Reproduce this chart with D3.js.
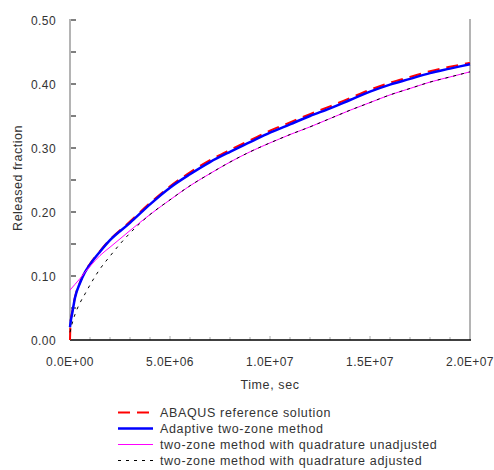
<!DOCTYPE html>
<html>
<head>
<meta charset="UTF-8">
<script src="https://d3js.org/d3.v7.min.js"></script>
<style>
  body { margin: 0; background: #fff; }
  svg { font-family: 'Liberation Sans', Arial, sans-serif; }
</style>
</head>
<body>
<div id="chart"></div>
<script>
// time in seconds, released fraction
const abaqusTime = [0, 2e4, 5e4, 1e5, 2.5e5, 5e5, 7.5e5, 1e6, 1.5e6, 2e6, 3e6, 4e6, 5e6, 6e6, 7e6, 8e6, 9e6, 1e7, 1.1e7, 1.2e7, 1.3e7, 1.4e7, 1.5e7, 1.6e7, 1.7e7, 1.8e7, 1.9e7, 2e7];
const abaqusValue = [0, 0.022, 0.034, 0.042, 0.067, 0.090, 0.107, 0.119, 0.139, 0.157, 0.185, 0.214, 0.240, 0.262, 0.281, 0.297, 0.312, 0.327, 0.340, 0.353, 0.365, 0.378, 0.391, 0.402, 0.411, 0.420, 0.427, 0.433];

const adaptiveTime = [0, 5e4, 1e5, 2.5e5, 5e5, 7.5e5, 1e6, 1.5e6, 2e6, 3e6, 4e6, 5e6, 6e6, 7e6, 8e6, 9e6, 1e7, 1.1e7, 1.2e7, 1.3e7, 1.4e7, 1.5e7, 1.6e7, 1.7e7, 1.8e7, 1.9e7, 2e7];
const adaptiveValue = [0.020, 0.032, 0.040, 0.066, 0.089, 0.106, 0.118, 0.138, 0.156, 0.183, 0.212, 0.238, 0.259, 0.278, 0.294, 0.309, 0.324, 0.337, 0.350, 0.362, 0.375, 0.388, 0.399, 0.408, 0.417, 0.424, 0.431];

const unadjTime = [0, 2.5e5, 5e5, 7.5e5, 1e6, 1.5e6, 2e6, 3e6, 4e6, 5e6, 6e6, 7e6, 8e6, 9e6, 1e7, 1.1e7, 1.2e7, 1.3e7, 1.4e7, 1.5e7, 1.6e7, 1.7e7, 1.8e7, 1.9e7, 2e7];
const unadjValue = [0.078, 0.087, 0.096, 0.106, 0.115, 0.132, 0.145, 0.171, 0.196, 0.219, 0.241, 0.260, 0.278, 0.294, 0.308, 0.321, 0.333, 0.346, 0.359, 0.371, 0.383, 0.393, 0.403, 0.411, 0.419];

const adjTime = [0, 1e5, 2.5e5, 5e5, 7.5e5, 1e6, 1.5e6, 2e6, 2.5e6, 3e6, 4e6, 5e6, 6e6, 7e6, 8e6, 9e6, 1e7, 1.1e7, 1.2e7, 1.3e7, 1.4e7, 1.5e7, 1.6e7, 1.7e7, 1.8e7, 1.9e7, 2e7];
const adjValue = [0.012, 0.025, 0.040, 0.058, 0.072, 0.086, 0.111, 0.131, 0.150, 0.167, 0.196, 0.219, 0.241, 0.260, 0.278, 0.294, 0.308, 0.321, 0.333, 0.346, 0.359, 0.371, 0.383, 0.393, 0.403, 0.411, 0.419];

const xTickLabels = ["0.0E+00", "5.0E+06", "1.0E+07", "1.5E+07", "2.0E+07"];
const yTickLabels = ["0.00", "0.10", "0.20", "0.30", "0.40", "0.50"];
const legendLabels = ["ABAQUS reference solution", "Adaptive two-zone method",
  "two-zone method with quadrature unadjusted", "two-zone method with quadrature adjusted"];

const width = 494, height = 470;
const plotLeft = 70, plotRight = 470, plotTop = 20, plotBottom = 340;

const svg = d3.select("#chart").append("svg")
  .attr("width", width).attr("height", height);

const x = d3.scaleLinear().domain([0, 2e7]).range([plotLeft, plotRight]);
const y = d3.scaleLinear().domain([0, 0.5]).range([plotBottom, plotTop]);

// minor ticks on x axis (every 1E+06)
svg.append("g").selectAll("line")
  .data(d3.range(1e6, 2e7 + 1, 1e6))
  .enter().append("line")
  .attr("x1", d => x(d)).attr("x2", d => x(d))
  .attr("y1", plotBottom).attr("y2", d => d % 5e6 === 0 ? plotBottom - 4 : plotBottom - 3)
  .attr("stroke", "#aaa").attr("stroke-width", 1);

// y ticks every 0.05, pointing inward
svg.append("g").selectAll("line")
  .data(d3.range(0.05, 0.5001, 0.05))
  .enter().append("line")
  .attr("x1", plotLeft).attr("x2", plotLeft + 6)
  .attr("y1", d => y(d)).attr("y2", d => y(d))
  .attr("stroke", "#000").attr("stroke-width", 1);

// axes frame
svg.append("line").attr("x1", plotLeft).attr("x2", plotLeft)
  .attr("y1", plotTop - 1).attr("y2", plotBottom)
  .attr("stroke", "#b4b4b4").attr("stroke-width", 2);
svg.append("line").attr("x1", plotRight).attr("x2", plotRight)
  .attr("y1", plotTop - 1).attr("y2", plotBottom)
  .attr("stroke", "#b4b4b4").attr("stroke-width", 2);
svg.append("line").attr("x1", plotLeft).attr("x2", plotRight + 1)
  .attr("y1", plotBottom).attr("y2", plotBottom)
  .attr("stroke", "#000").attr("stroke-width", 1.5);

// tick labels
svg.append("g").selectAll("text")
  .data(yTickLabels)
  .enter().append("text")
  .attr("x", plotLeft - 14).attr("y", d => y(+d) + 4.5)
  .attr("text-anchor", "end")
  .attr("font-size", 12).attr("letter-spacing", 0.4).attr("fill", "#333")
  .text(d => d);

svg.append("g").selectAll("text")
  .data(xTickLabels)
  .enter().append("text")
  .attr("x", d => x(+d)).attr("y", 366)
  .attr("text-anchor", "middle")
  .attr("font-size", 12).attr("letter-spacing", 0.4).attr("fill", "#333")
  .text(d => d);

svg.append("text").attr("x", 270).attr("y", 389)
  .attr("text-anchor", "middle").attr("font-size", 12.5)
  .attr("letter-spacing", 0.6).attr("fill", "#333")
  .text("Time, sec");

svg.append("text")
  .attr("transform", "translate(22," + 178 + ") rotate(-90)")
  .attr("text-anchor", "middle").attr("font-size", 12.5)
  .attr("letter-spacing", 0.5).attr("fill", "#333")
  .text("Released fraction");

// series
const series = [
  {t: abaqusTime, v: abaqusValue, color: "#ff0000", w: 2, dash: "12,7"},
  {t: adaptiveTime, v: adaptiveValue, color: "#0000ff", w: 2.5, dash: null},
  {t: unadjTime, v: unadjValue, color: "#ff00ff", w: 1, dash: null},
  {t: adjTime, v: adjValue, color: "#000000", w: 1, dash: "3,5"}
];

const line = d3.line().curve(d3.curveMonotoneX)
  .x(d => x(d[0])).y(d => y(d[1]));

series.forEach(s => {
  svg.append("path")
    .datum(s.t.map((t, i) => [t, s.v[i]]))
    .attr("d", line)
    .attr("fill", "none")
    .attr("stroke", s.color)
    .attr("stroke-width", s.w)
    .attr("stroke-dasharray", s.dash);
});

// legend
const legend = svg.append("g");
series.forEach((s, i) => {
  const base = 417 + i * 16;
  legend.append("line")
    .attr("x1", 118).attr("x2", 153)
    .attr("y1", base - 4.5).attr("y2", base - 4.5)
    .attr("stroke", s.color).attr("stroke-width", s.w)
    .attr("stroke-dasharray", s.dash);
  legend.append("text")
    .attr("x", 160).attr("y", base)
    .attr("font-size", 12.5).attr("letter-spacing", 0.65).attr("fill", "#333")
    .text(legendLabels[i]);
});
</script>
</body>
</html>
